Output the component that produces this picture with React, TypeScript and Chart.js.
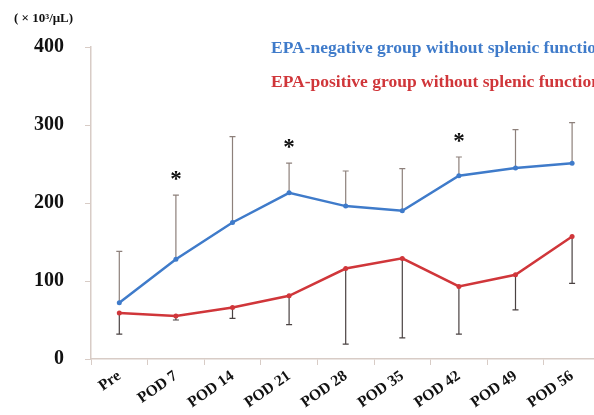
import React, { useEffect, useRef } from 'react';
import { Chart, registerables } from 'chart.js';

Chart.register(...registerables);

const categories = ['Pre', 'POD 7', 'POD 14', 'POD 21', 'POD 28', 'POD 35', 'POD 42', 'POD 49', 'POD 56'];
const negLabel = 'EPA-negative group without splenic function';
const posLabel = 'EPA-positive group without splenic function';
const negMean = [72, 128, 175, 213, 196, 190, 235, 245, 251];
const negUpper = [138, 210, 285, 251, 241, 244, 259, 294, 303];
const posMean = [59, 55, 66, 81, 116, 129, 93, 108, 157];
const posLower = [32, 50, 52, 44, 19, 27, 32, 63, 97];
const starIndex = [1, 3, 6];
const yTicks = [0, 100, 200, 300, 400];
const unitLabel = '( × 10³/μL)';

const BLUE = '#3f7bca';
const RED = '#d0363a';
const SERIF = '"Liberation Serif", "DejaVu Serif", serif';

export default function App() {
  const ref = useRef<HTMLCanvasElement>(null);

  useEffect(() => {
    if (!ref.current) return;
    const extras = {
      id: 'extras',
      beforeDatasetsDraw(chart: any) {
        const { ctx, scales } = chart;
        const x = scales.x;
        const y = scales.y;
        ctx.save();
        ctx.lineWidth = 1.2;
        ctx.strokeStyle = '#8d807b';
        negUpper.forEach((v, i) => {
          const px = x.getPixelForValue(i);
          const p0 = y.getPixelForValue(negMean[i]);
          const p1 = y.getPixelForValue(v);
          ctx.beginPath();
          ctx.moveTo(px, p0);
          ctx.lineTo(px, p1);
          ctx.moveTo(px - 3, p1);
          ctx.lineTo(px + 3, p1);
          ctx.stroke();
        });
        ctx.strokeStyle = '#4a4242';
        posLower.forEach((v, i) => {
          const px = x.getPixelForValue(i);
          const p0 = y.getPixelForValue(posMean[i]);
          const p1 = y.getPixelForValue(v);
          ctx.beginPath();
          ctx.moveTo(px, p0);
          ctx.lineTo(px, p1);
          ctx.moveTo(px - 3, p1);
          ctx.lineTo(px + 3, p1);
          ctx.stroke();
        });
        ctx.restore();
      },
      afterDatasetsDraw(chart: any) {
        const { ctx, scales } = chart;
        const x = scales.x;
        const y = scales.y;
        ctx.save();
        ctx.fillStyle = '#111';
        ctx.font = `bold 23px ${SERIF}`;
        ctx.textAlign = 'center';
        ctx.textBaseline = 'middle';
        starIndex.forEach((i) => {
          const px = x.getPixelForValue(i);
          const py = y.getPixelForValue(negUpper[i]) - 19;
          ctx.fillText('*', px, py + 4);
        });
        ctx.textAlign = 'left';
        ctx.font = `bold 17.5px ${SERIF}`;
        chart.data.datasets.forEach((ds: any, k: number) => {
          ctx.fillStyle = ds.borderColor;
          ctx.fillText(ds.label, 271, 48 + k * 34);
        });
        ctx.fillStyle = '#111';
        ctx.font = `bold 13px ${SERIF}`;
        ctx.fillText(unitLabel, 14, 19);
        ctx.restore();
      },
    };

    const chart = new Chart(ref.current, {
      type: 'line',
      data: {
        labels: categories,
        datasets: [
          {
            label: negLabel,
            data: negMean,
            borderColor: BLUE,
            backgroundColor: BLUE,
            borderWidth: 2.5,
            pointRadius: 2.5,
            pointBorderWidth: 0,
            tension: 0,
          },
          {
            label: posLabel,
            data: posMean,
            borderColor: RED,
            backgroundColor: RED,
            borderWidth: 2.5,
            pointRadius: 2.5,
            pointBorderWidth: 0,
            tension: 0,
          },
        ],
      },
      options: {
        responsive: false,
        animation: false,
        devicePixelRatio: 1,
        layout: { padding: { top: 47, right: 39.6, left: 0, bottom: 0 } },
        plugins: {
          legend: { display: false },
          tooltip: { enabled: false },
        },
        scales: {
          x: {
            type: 'category',
            offset: true,
            grid: {
              display: true,
              offset: true,
              drawOnChartArea: false,
              drawTicks: true,
              tickLength: 6,
              color: '#d8ccc6',
            },
            border: { display: true, color: '#d8ccc6', width: 1.5 },
            ticks: {
              color: '#111',
              font: { family: SERIF, size: 15.5, weight: 'bold' },
              minRotation: 35,
              maxRotation: 35,
              padding: 2,
              autoSkip: false,
            },
            afterFit(scale: any) {
              scale.height = 56;
            },
          },
          y: {
            min: 0,
            max: 400,
            afterBuildTicks(scale: any) {
              scale.ticks = yTicks.map((v) => ({ value: v }));
            },
            grid: {
              display: true,
              drawOnChartArea: false,
              drawTicks: true,
              tickLength: 6,
              color: '#d8ccc6',
            },
            border: { display: true, color: '#d8ccc6', width: 1.5 },
            ticks: {
              color: '#111',
              font: { family: SERIF, size: 20, weight: 'bold' },
              padding: 21,
            },
            afterFit(scale: any) {
              scale.width = 91;
            },
          },
        },
      },
      plugins: [extras],
    });
    return () => chart.destroy();
  }, []);

  return (
    <div
      style={{
        position: 'fixed',
        left: 0,
        top: 0,
        width: 594,
        height: 415,
        overflow: 'hidden',
        background: '#fff',
      }}
    >
      <canvas ref={ref} width={640} height={415} style={{ display: 'block', width: 640, height: 415 }} />
    </div>
  );
}
